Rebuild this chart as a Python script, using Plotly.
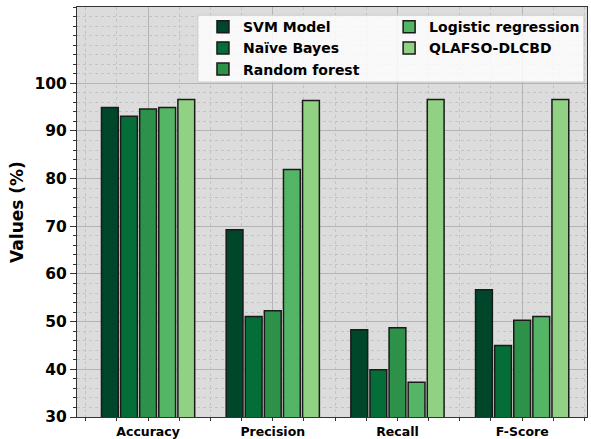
import plotly.graph_objects as go

categories = ["Accuracy", "Precision", "Recall", "F-Score"]
models = ["SVM Model", "Naïve Bayes", "Random forest", "Logistic regression", "QLAFSO-DLCBD"]
svm = [94.9, 69.3, 48.3, 56.7]
naive_bayes = [93.1, 51.1, 39.9, 45.0]
random_forest = [94.6, 52.3, 48.7, 50.3]
logistic = [94.9, 81.9, 37.3, 51.1]
qlafso = [96.6, 96.4, 96.6, 96.6]
series = [svm, naive_bayes, random_forest, logistic, qlafso]
colors = ["#00462a", "#056d37", "#2e9149", "#55b567", "#91d183"]
legend_ids = ["legend", "legend", "legend", "legend2", "legend2"]
y_ticks = [30, 40, 50, 60, 70, 80, 90, 100]

xpos = list(range(len(categories)))
fig = go.Figure()
for name, vals, col, lg in zip(models, series, colors, legend_ids):
    fig.add_trace(go.Bar(x=xpos, y=vals, name=name, legendgroup=name,
                         marker=dict(color=col, line=dict(color="#1a1a1a", width=1.5)),
                         legend=lg))

font = "DejaVu Sans"
lfont = dict(size=14, family=font, weight="bold")
fig.update_layout(
    width=591, height=439,
    margin=dict(l=77, r=4, t=7, b=22),
    paper_bgcolor="white", plot_bgcolor="#dcdcdc",
    barmode="group", bargap=0.234, bargroupgap=0.12,
    font=dict(family=font, color="black"),
    showlegend=True,
    legend=dict(x=0.247, y=0.99, xanchor="left", yanchor="top", bgcolor="rgba(0,0,0,0)",
                font=lfont, tracegroupgap=0, itemwidth=30, traceorder="grouped"),
    legend2=dict(x=0.612, y=0.99, xanchor="left", yanchor="top", bgcolor="rgba(0,0,0,0)",
                 font=lfont, tracegroupgap=0, itemwidth=30, traceorder="grouped"),
    shapes=[dict(type="rect", xref="paper", yref="paper", x0=0.237, x1=0.994, y0=0.817, y1=0.980,
                 fillcolor="rgba(255,255,255,0.82)", line=dict(color="#cccccc", width=1), layer="above")],
)
fig.update_xaxes(
    range=[-0.57, 3.52], tickvals=xpos, ticktext=categories, automargin=False,
    tickfont=dict(size=12.5, family=font, weight="bold"),
    ticks="outside", ticklen=3, tickcolor="#333", showline=True, linecolor="#333", linewidth=1, mirror=True,
    showgrid=True, gridcolor="#b4b4b4", gridwidth=1, zeroline=False,
    minor=dict(dtick=0.25, tick0=0, ticks="outside", ticklen=3, tickcolor="#333", showgrid=True,
               gridcolor="#c4c4c4", griddash="dot", gridwidth=1),
)
fig.update_yaxes(
    range=[30, 116], tickvals=y_ticks, automargin=False,
    tickfont=dict(size=15.5, family=font, weight="bold"),
    title=dict(text="Values (%)", font=dict(size=17, family=font, weight="bold"), standoff=6),
    ticks="outside", ticklen=6, tickcolor="#333", showline=True, linecolor="#333", linewidth=1, mirror=True,
    showgrid=True, gridcolor="#b4b4b4", gridwidth=1, zeroline=False,
    minor=dict(dtick=2, tick0=30, ticks="outside", ticklen=3, tickcolor="#333", showgrid=True,
               gridcolor="#c4c4c4", griddash="dot", gridwidth=1),
)
fig.write_html("out.html", config={"displayModeBar": False},
               post_script="document.body.style.margin='0';document.body.style.overflow='hidden';")
